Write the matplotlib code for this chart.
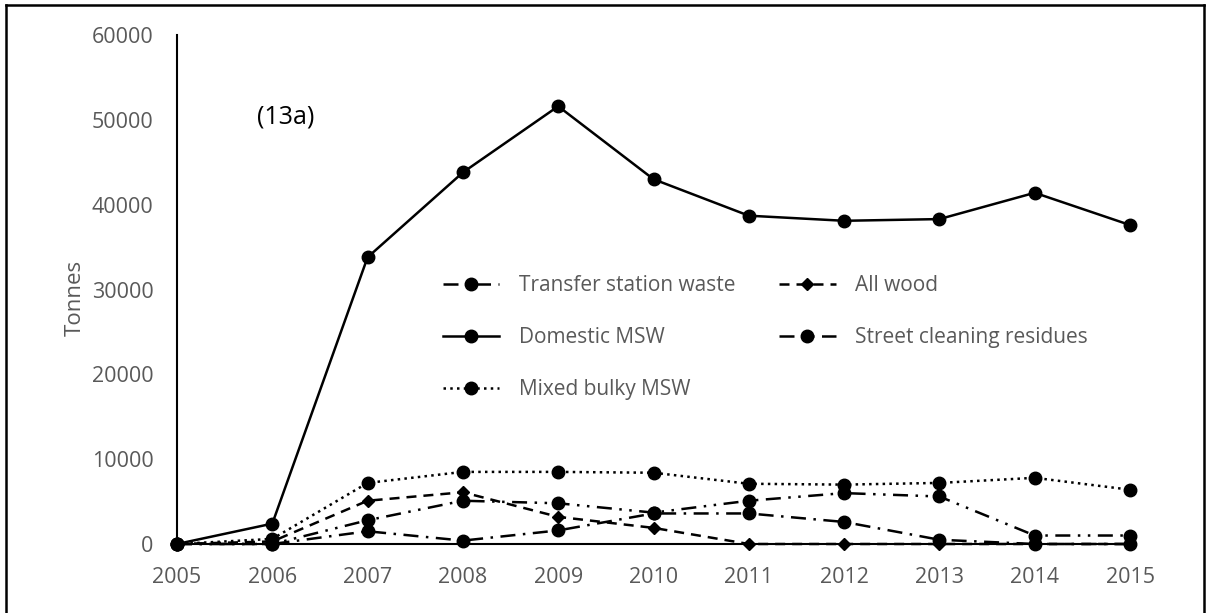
import numpy as np
import matplotlib
matplotlib.use("Agg")
import matplotlib.pyplot as plt
from matplotlib.lines import Line2D

plt.rcParams['font.family'] = ['Open Sans', 'DejaVu Sans']

# data (tonnes)
years = [2005, 2006, 2007, 2008, 2009, 2010, 2011, 2012, 2013, 2014, 2015]
transfer_station = [0, 0, 1500, 400, 1600, 3600, 3600, 2600, 500, 0, 0]
domestic_msw = [0, 2400, 33800, 43800, 51600, 43000, 38700, 38100, 38300, 41400, 37600]
mixed_bulky = [0, 600, 7200, 8500, 8500, 8400, 7100, 7000, 7200, 7800, 6400]
all_wood = [0, 300, 5100, 6100, 3200, 1900, 0, 0, 0, 0, 0]
street_cleaning = [0, 0, 2800, 5100, 4800, 3700, 5100, 6000, 5600, 1000, 1000]

W, H = 1209, 613
fig = plt.figure(figsize=(W / 100, H / 100), dpi=100)
ax = fig.add_axes([177 / W, 1 - 544 / H, (1130 - 177) / W, (544 - 35) / H])

grey = '#595959'
lw = 1.8
common = dict(color='black', lw=lw, clip_on=False, markersize=9)

ax.plot(years, transfer_station, linestyle=(0, (6, 3, 1, 3)), marker='o',
        label='Transfer station waste', **common)
ax.plot(years, domestic_msw, linestyle='-', marker='o', label='Domestic MSW', **common)
ax.plot(years, mixed_bulky, linestyle=(0, (1, 1.7)), marker='o',
        label='Mixed bulky MSW', **common)
ax.plot(years, all_wood, linestyle=(0, (4, 2.8)), marker='D', color='black', lw=lw,
        clip_on=False, markersize=6.5, label='All wood')
ax.plot(years, street_cleaning, linestyle=(0, (6, 3, 1, 3, 1, 3)), marker='o',
        label='Street cleaning residues', **common)

ax.set_xlim(2005, 2015)
ax.set_ylim(0, 60000)
ax.set_xticks(years)
ax.set_yticks(np.arange(0, 60001, 10000))
for s in ['top', 'right']:
    ax.spines[s].set_visible(False)
ax.spines['left'].set_linewidth(1.5)
ax.spines['bottom'].set_linewidth(1.5)
ax.tick_params(length=0, labelsize=15.5, labelcolor=grey)
ax.tick_params(axis='y', pad=17)
ax.tick_params(axis='x', pad=16.5)
ax.set_facecolor('none')

fig.text(75 / W, 1 - 298 / H, 'Tonnes', rotation=90, ha='center', va='center',
         fontsize=16, color=grey)
fig.text(257 / W, 1 - 117 / H, '(13a)', ha='left', va='center', fontsize=18,
         color='black')

ax.legend(loc='upper left', bbox_to_anchor=(443 / W, 1 - 275 / H),
          bbox_transform=fig.transFigure, ncol=2, frameon=False, fontsize=15,
          labelcolor=grey, borderpad=0, borderaxespad=0, handlelength=2.7,
          handletextpad=0.95, columnspacing=2.1, labelspacing=1.5)

# outer frame around the chart
fig.add_artist(Line2D([6 / W, 6 / W], [0, 1 - 5 / H], transform=fig.transFigure,
                      color='black', lw=1.8))
fig.add_artist(Line2D([6 / W, 1204 / W], [1 - 5 / H, 1 - 5 / H],
                      transform=fig.transFigure, color='black', lw=1.8))
fig.add_artist(Line2D([1204 / W, 1204 / W], [0, 1 - 5 / H], transform=fig.transFigure,
                      color='black', lw=1.8))

fig.savefig('out.png', dpi=100)
